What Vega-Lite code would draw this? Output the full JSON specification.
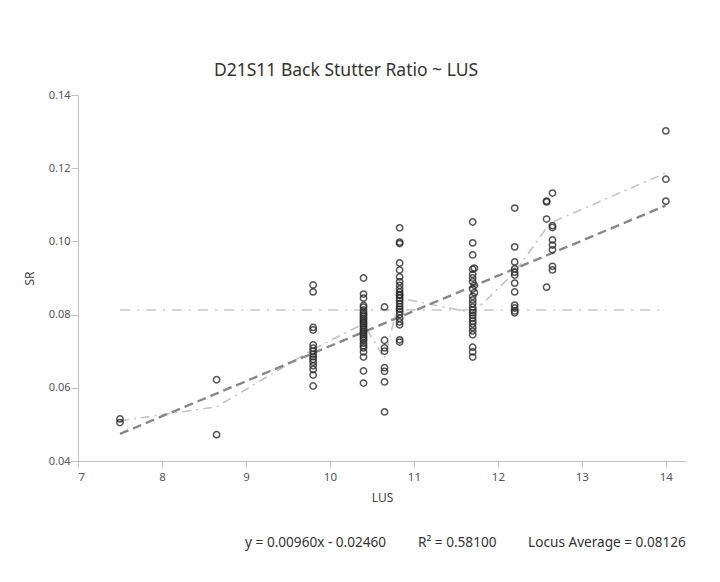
{
  "$schema": "https://vega.github.io/schema/vega-lite/v6.json",
  "autosize": {"type": "none"},
  "width": 608,
  "height": 366,
  "padding": {"left": 78, "top": 95, "right": 34, "bottom": 121},
  "background": "white",
  "config": {"view": {"stroke": null}, "font": "Noto Sans", "axis": {"labelOverlap": false}},
  "title": {"text": "D21S11 Back Stutter Ratio ~ LUS", "fontSize": 17.5, "fontWeight": "normal", "color": "#333", "font": "Noto Sans", "anchor": "middle", "dx": -36, "offset": 10},
  "datasets": {
    "pts": [
      {"LUS": 7.5, "SR": 0.0515}, {"LUS": 7.5, "SR": 0.0505},
      {"LUS": 8.65, "SR": 0.0622}, {"LUS": 8.65, "SR": 0.0472},
      {"LUS": 9.8, "SR": 0.0881}, {"LUS": 9.8, "SR": 0.0862}, {"LUS": 9.8, "SR": 0.0765}, {"LUS": 9.8, "SR": 0.0758}, {"LUS": 9.8, "SR": 0.0717}, {"LUS": 9.8, "SR": 0.0708}, {"LUS": 9.8, "SR": 0.07}, {"LUS": 9.8, "SR": 0.0692}, {"LUS": 9.8, "SR": 0.0685}, {"LUS": 9.8, "SR": 0.0678}, {"LUS": 9.8, "SR": 0.067}, {"LUS": 9.8, "SR": 0.066}, {"LUS": 9.8, "SR": 0.065}, {"LUS": 9.8, "SR": 0.0635}, {"LUS": 9.8, "SR": 0.0605},
      {"LUS": 10.4, "SR": 0.09}, {"LUS": 10.4, "SR": 0.0856}, {"LUS": 10.4, "SR": 0.0845}, {"LUS": 10.4, "SR": 0.0825}, {"LUS": 10.4, "SR": 0.082}, {"LUS": 10.4, "SR": 0.0812}, {"LUS": 10.4, "SR": 0.0805}, {"LUS": 10.4, "SR": 0.08}, {"LUS": 10.4, "SR": 0.0795}, {"LUS": 10.4, "SR": 0.079}, {"LUS": 10.4, "SR": 0.0785}, {"LUS": 10.4, "SR": 0.078}, {"LUS": 10.4, "SR": 0.0775}, {"LUS": 10.4, "SR": 0.077}, {"LUS": 10.4, "SR": 0.0765}, {"LUS": 10.4, "SR": 0.076}, {"LUS": 10.4, "SR": 0.0755}, {"LUS": 10.4, "SR": 0.075}, {"LUS": 10.4, "SR": 0.0745}, {"LUS": 10.4, "SR": 0.074}, {"LUS": 10.4, "SR": 0.0735}, {"LUS": 10.4, "SR": 0.073}, {"LUS": 10.4, "SR": 0.0722}, {"LUS": 10.4, "SR": 0.0715}, {"LUS": 10.4, "SR": 0.0709}, {"LUS": 10.4, "SR": 0.0698}, {"LUS": 10.4, "SR": 0.0684}, {"LUS": 10.4, "SR": 0.0646}, {"LUS": 10.4, "SR": 0.0613},
      {"LUS": 10.65, "SR": 0.0821}, {"LUS": 10.65, "SR": 0.073}, {"LUS": 10.65, "SR": 0.0709}, {"LUS": 10.65, "SR": 0.07}, {"LUS": 10.65, "SR": 0.0655}, {"LUS": 10.65, "SR": 0.0645}, {"LUS": 10.65, "SR": 0.0616}, {"LUS": 10.65, "SR": 0.0534},
      {"LUS": 10.83, "SR": 0.1037}, {"LUS": 10.83, "SR": 0.0998}, {"LUS": 10.83, "SR": 0.0994}, {"LUS": 10.83, "SR": 0.0941}, {"LUS": 10.83, "SR": 0.0922}, {"LUS": 10.83, "SR": 0.0903}, {"LUS": 10.83, "SR": 0.089}, {"LUS": 10.83, "SR": 0.088}, {"LUS": 10.83, "SR": 0.087}, {"LUS": 10.83, "SR": 0.0862}, {"LUS": 10.83, "SR": 0.0855}, {"LUS": 10.83, "SR": 0.0852}, {"LUS": 10.83, "SR": 0.0845}, {"LUS": 10.83, "SR": 0.0838}, {"LUS": 10.83, "SR": 0.083}, {"LUS": 10.83, "SR": 0.0822}, {"LUS": 10.83, "SR": 0.0815}, {"LUS": 10.83, "SR": 0.0808}, {"LUS": 10.83, "SR": 0.08}, {"LUS": 10.83, "SR": 0.079}, {"LUS": 10.83, "SR": 0.078}, {"LUS": 10.83, "SR": 0.0772}, {"LUS": 10.83, "SR": 0.0731}, {"LUS": 10.83, "SR": 0.0725},
      {"LUS": 11.7, "SR": 0.1053}, {"LUS": 11.7, "SR": 0.0996}, {"LUS": 11.7, "SR": 0.0963}, {"LUS": 11.72, "SR": 0.0927}, {"LUS": 11.7, "SR": 0.0924}, {"LUS": 11.7, "SR": 0.091}, {"LUS": 11.7, "SR": 0.09}, {"LUS": 11.7, "SR": 0.089}, {"LUS": 11.72, "SR": 0.088}, {"LUS": 11.7, "SR": 0.087}, {"LUS": 11.72, "SR": 0.086}, {"LUS": 11.7, "SR": 0.085}, {"LUS": 11.7, "SR": 0.084}, {"LUS": 11.7, "SR": 0.083}, {"LUS": 11.7, "SR": 0.082}, {"LUS": 11.7, "SR": 0.0812}, {"LUS": 11.7, "SR": 0.0805}, {"LUS": 11.7, "SR": 0.0798}, {"LUS": 11.7, "SR": 0.079}, {"LUS": 11.7, "SR": 0.0782}, {"LUS": 11.7, "SR": 0.0775}, {"LUS": 11.7, "SR": 0.0765}, {"LUS": 11.7, "SR": 0.0755}, {"LUS": 11.7, "SR": 0.0745}, {"LUS": 11.7, "SR": 0.0711}, {"LUS": 11.7, "SR": 0.0698}, {"LUS": 11.7, "SR": 0.0684},
      {"LUS": 12.2, "SR": 0.1091}, {"LUS": 12.2, "SR": 0.0985}, {"LUS": 12.2, "SR": 0.0944}, {"LUS": 12.2, "SR": 0.0925}, {"LUS": 12.2, "SR": 0.0916}, {"LUS": 12.2, "SR": 0.0908}, {"LUS": 12.2, "SR": 0.0886}, {"LUS": 12.2, "SR": 0.0862}, {"LUS": 12.2, "SR": 0.0826}, {"LUS": 12.2, "SR": 0.0818}, {"LUS": 12.2, "SR": 0.081}, {"LUS": 12.2, "SR": 0.0805},
      {"LUS": 12.58, "SR": 0.111}, {"LUS": 12.58, "SR": 0.1108}, {"LUS": 12.58, "SR": 0.1061}, {"LUS": 12.58, "SR": 0.0875},
      {"LUS": 12.65, "SR": 0.1132}, {"LUS": 12.65, "SR": 0.1043}, {"LUS": 12.65, "SR": 0.1038}, {"LUS": 12.65, "SR": 0.1004}, {"LUS": 12.65, "SR": 0.099}, {"LUS": 12.65, "SR": 0.0977}, {"LUS": 12.65, "SR": 0.0932}, {"LUS": 12.65, "SR": 0.0922},
      {"LUS": 14, "SR": 0.1302}, {"LUS": 14, "SR": 0.117}, {"LUS": 14, "SR": 0.111}
    ],
    "smooth": [
      {"LUS": 7.5, "SR": 0.051}, {"LUS": 8.13, "SR": 0.0531}, {"LUS": 8.65, "SR": 0.0548}, {"LUS": 9.8, "SR": 0.0705}, {"LUS": 10.4, "SR": 0.0775}, {"LUS": 10.65, "SR": 0.068}, {"LUS": 10.83, "SR": 0.0845}, {"LUS": 11.7, "SR": 0.0805}, {"LUS": 12.2, "SR": 0.0915}, {"LUS": 12.62, "SR": 0.105}, {"LUS": 14, "SR": 0.1187}
    ],
    "fit": [
      {"LUS": 7.5, "SR": 0.0474}, {"LUS": 14, "SR": 0.1098}
    ],
    "avg": [
      {"LUS": 7.5, "SR": 0.08126}, {"LUS": 14, "SR": 0.08126}
    ]
  },
  "layer": [
    {
      "encoding": {
        "x": {"field": "LUS", "type": "quantitative", "scale": {"domain": [7, 14.24], "nice": false, "zero": false},
          "axis": {"values": [7, 8, 9, 10, 11, 12, 13, 14], "format": "d", "title": "LUS", "titleFontSize": 12, "titleFontWeight": "normal", "titleColor": "#444", "titlePadding": 10, "labelFontSize": 11.5, "labelColor": "#555", "domainColor": "#c0c0c0", "tickColor": "#c0c0c0", "tickSize": 6, "grid": false, "labelPadding": 4, "labelOverlap": false}},
        "y": {"field": "SR", "type": "quantitative", "scale": {"domain": [0.04, 0.14], "nice": false, "zero": false},
          "axis": {"values": [0.04, 0.045, 0.05, 0.055, 0.06, 0.065, 0.07, 0.075, 0.08, 0.085, 0.09, 0.095, 0.1, 0.105, 0.11, 0.115, 0.12, 0.125, 0.13, 0.135, 0.14],
            "labelExpr": "abs(round(datum.value*1000) % 10) < 1 ? format(datum.value, '.2f') : ''",
            "labelOverlap": false,
            "tickSize": {"condition": {"test": "abs(round(datum.value*1000) % 10) < 1", "value": 7}, "value": 4},
            "title": "SR", "titleFontSize": 12, "titleFontWeight": "normal", "titleColor": "#444", "titlePadding": 12, "labelFontSize": 11, "labelColor": "#555", "domainColor": "#c0c0c0", "tickColor": "#c0c0c0", "grid": false, "labelPadding": 1}}
      },
      "layer": [
        {"data": {"name": "avg"}, "mark": {"type": "line", "color": "#aaaaaa", "strokeWidth": 1.2, "strokeDash": [10, 7, 2, 7]}},
        {"data": {"name": "smooth"}, "mark": {"type": "line", "color": "#c4c4c4", "strokeWidth": 1.6, "strokeDash": [9, 5, 2, 5]}},
        {"data": {"name": "fit"}, "mark": {"type": "line", "color": "#888888", "strokeWidth": 2.4, "strokeDash": [9, 5]}},
        {"data": {"name": "pts"}, "mark": {"type": "point", "shape": "circle", "filled": false, "size": 40, "strokeWidth": 1.5, "color": "#2a2a2a", "opacity": 0.8}}
      ]
    },
    {
      "data": {"values": [{"t": "y = 0.00960x - 0.02460"}, {"t": "R² = 0.58100"}, {"t": "Locus Average = 0.08126"}]},
      "layer": [
        {
          "transform": [{"filter": "datum.t == 'y = 0.00960x - 0.02460'"}],
          "mark": {"type": "text", "align": "left", "baseline": "middle", "fontSize": 13.6, "color": "#333"},
          "encoding": {"x": {"datum": 8.99, "type": "quantitative"}, "y": {"datum": 0.0176, "type": "quantitative"}, "text": {"field": "t"}}
        },
        {
          "transform": [{"filter": "datum.t == 'R² = 0.58100'"}],
          "mark": {"type": "text", "align": "left", "baseline": "middle", "fontSize": 13.6, "color": "#333"},
          "encoding": {"x": {"datum": 11.05, "type": "quantitative"}, "y": {"datum": 0.0176, "type": "quantitative"}, "text": {"field": "t"}}
        },
        {
          "transform": [{"filter": "datum.t == 'Locus Average = 0.08126'"}],
          "mark": {"type": "text", "align": "left", "baseline": "middle", "fontSize": 13.6, "color": "#333"},
          "encoding": {"x": {"datum": 12.36, "type": "quantitative"}, "y": {"datum": 0.0176, "type": "quantitative"}, "text": {"field": "t"}}
        }
      ]
    }
  ]
}
